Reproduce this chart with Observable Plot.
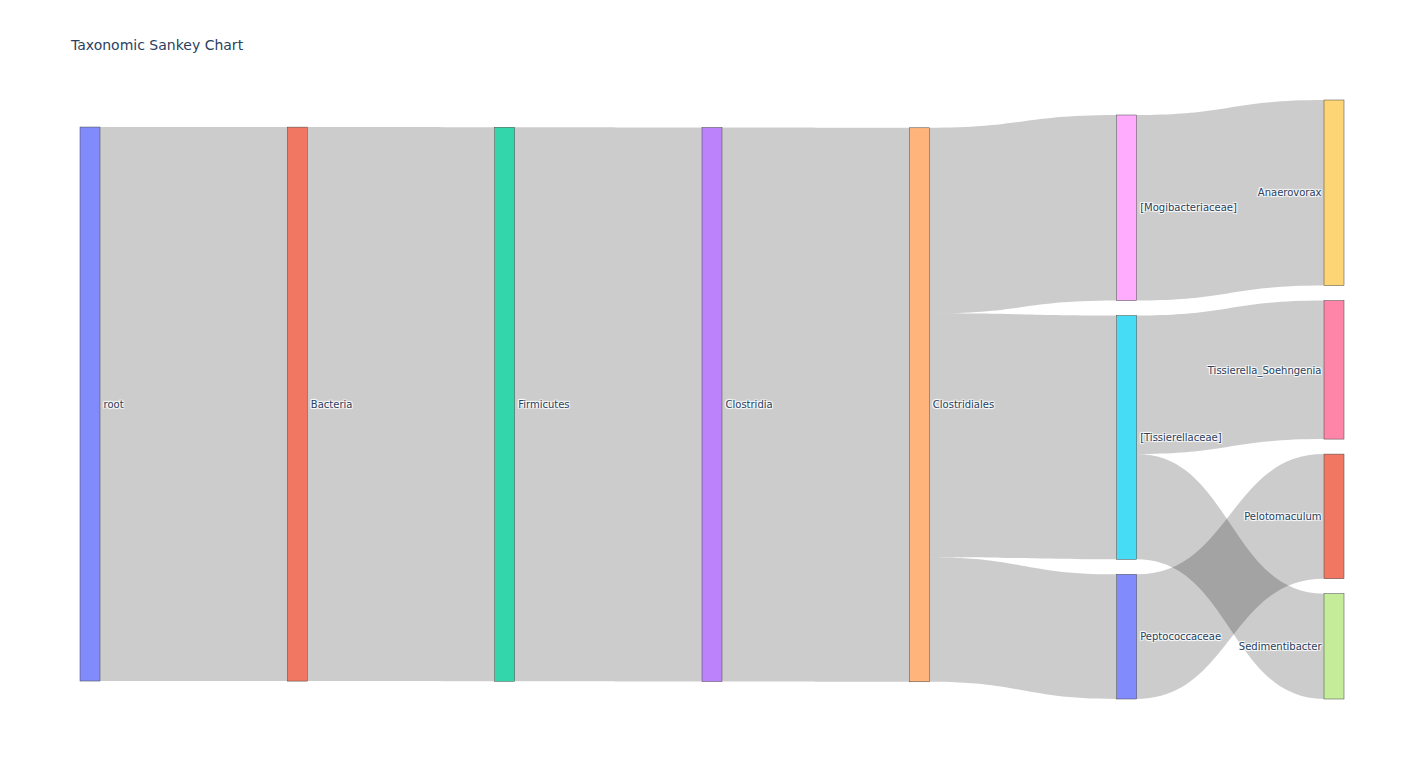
<!DOCTYPE html>
<html>
<head>
<meta charset="utf-8">
<script src="https://cdn.jsdelivr.net/npm/d3@7"></script>
<script src="https://cdn.jsdelivr.net/npm/@observablehq/plot@0.6"></script>
<style>
  html, body { margin: 0; padding: 0; background: #fff; overflow: hidden; }
  #wrap { position: relative; width: 1424px; height: 779px; }
  #title { position: absolute; left: 71px; top: 38px; font-family: "DejaVu Sans", sans-serif; font-size: 14px; line-height: 14px; color: #2a3f5f; white-space: nowrap; }
  #chart svg { display: block; }
  g[aria-label="text"] text { text-shadow: 1px 1px 1px #fff, 1px -1px 1px #fff, -1px 1px 1px #fff, -1px -1px 1px #fff; }
</style>
</head>
<body>
<div id="wrap">
  <div id="chart"></div>
  <div id="title">Taxonomic Sankey Chart</div>
</div>
<script>
// ---- Data ----
const nodeLabels = ["root", "Bacteria", "Firmicutes", "Clostridia", "Clostridiales",
  "[Tissierellaceae]", "[Mogibacteriaceae]", "Tissierella_Soehngenia", "Sedimentibacter",
  "Anaerovorax", "Peptococcaceae", "Pelotomaculum"];
const nodeColors = ["#636efa", "#EF553B", "#00cc96", "#ab63fa", "#FFA15A",
  "#19d3f3", "#FF97FF", "#FF6692", "#B6E880", "#FECB52", "#636efa", "#EF553B"];
const linkSources = ["root", "Bacteria", "Firmicutes", "Clostridia", "Clostridiales", "Clostridiales",
  "Clostridiales", "[Tissierellaceae]", "[Tissierellaceae]", "[Mogibacteriaceae]", "Peptococcaceae"];
const linkTargets = ["Bacteria", "Firmicutes", "Clostridia", "Clostridiales", "[Tissierellaceae]",
  "[Mogibacteriaceae]", "Peptococcaceae", "Tissierella_Soehngenia", "Sedimentibacter", "Anaerovorax", "Pelotomaculum"];
const linkValues = [400, 400, 400, 400, 176, 134, 90, 100, 76, 134, 90];

// ---- Sankey layout (classic d3-sankey relaxation, computed in plot units) ----
const W = 1264, H = 599, nodeW = 20, pad = 15, iterations = 400;
const nodes = nodeLabels.map((name, i) => ({name, index: i, color: nodeColors[i], sourceLinks: [], targetLinks: []}));
const byName = new Map(nodes.map(n => [n.name, n]));
const links = linkSources.map((s, i) => {
  const l = {source: byName.get(s), target: byName.get(linkTargets[i]), value: linkValues[i], index: i};
  l.source.sourceLinks.push(l); l.target.targetLinks.push(l);
  return l;
});
for (const n of nodes) n.value = Math.max(d3.sum(n.sourceLinks, l => l.value), d3.sum(n.targetLinks, l => l.value));
let current = new Set(nodes), depth = 0;
while (current.size) {
  const next = new Set();
  for (const n of current) { n.depth = depth; for (const l of n.sourceLinks) next.add(l.target); }
  depth++; current = next;
}
const nCols = depth;
const kx = (W - nodeW) / (nCols - 1);
for (const n of nodes) { n.layer = n.sourceLinks.length ? n.depth : nCols - 1; n.x0 = n.layer * kx; n.x1 = n.x0 + nodeW; }
const columns = d3.groups(nodes, n => n.layer).sort((a, b) => a[0] - b[0]).map(d => d[1]);
const center = n => (n.y0 + n.y1) / 2;
const ky = d3.min(columns, c => (H - (c.length - 1) * pad) / d3.sum(c, n => n.value));
for (const col of columns) col.forEach((n, i) => { n.y0 = i; n.y1 = i + n.value * ky; });
for (const l of links) l.width = l.value * ky;
function resolve() {
  for (const col of columns) {
    let y = 0, node, dy;
    col.sort((a, b) => a.y0 - b.y0);
    for (node of col) { dy = y - node.y0; if (dy > 0) { node.y0 += dy; node.y1 += dy; } y = node.y1 + pad; }
    node = col[col.length - 1];
    dy = y - pad - H;
    if (dy > 0) {
      node.y0 -= dy; node.y1 -= dy; y = node.y0;
      for (let i = col.length - 2; i >= 0; --i) {
        const m = col[i]; dy = m.y1 + pad - y;
        if (dy > 0) { m.y0 -= dy; m.y1 -= dy; }
        y = m.y0;
      }
    }
  }
}
function relaxRL(alpha) {
  for (const col of columns.slice().reverse()) for (const n of col) if (n.sourceLinks.length) {
    const dy = (d3.sum(n.sourceLinks, l => center(l.target) * l.value) / d3.sum(n.sourceLinks, l => l.value) - center(n)) * alpha;
    n.y0 += dy; n.y1 += dy;
  }
}
function relaxLR(alpha) {
  for (const col of columns) for (const n of col) if (n.targetLinks.length) {
    const dy = (d3.sum(n.targetLinks, l => center(l.source) * l.value) / d3.sum(n.targetLinks, l => l.value) - center(n)) * alpha;
    n.y0 += dy; n.y1 += dy;
  }
}
resolve();
for (let alpha = 1, k = iterations; k > 0; --k) { relaxRL(alpha *= 0.99); resolve(); relaxLR(alpha); resolve(); }
for (const n of nodes) {
  n.sourceLinks.sort((a, b) => (a.target.y0 - b.target.y0) || (a.index - b.index));
  n.targetLinks.sort((a, b) => (a.source.y0 - b.source.y0) || (a.index - b.index));
  let y0 = n.y0, y1 = n.y0;
  for (const l of n.sourceLinks) { l.y0 = y0 + l.width / 2; y0 += l.width; }
  for (const l of n.targetLinks) { l.y1 = y1 + l.width / 2; y1 += l.width; }
}
const ribbon = links.flatMap(l => [
  {link: l.index, x: l.source.x1, top: l.y0 - l.width / 2, bottom: l.y0 + l.width / 2},
  {link: l.index, x: l.target.x0, top: l.y1 - l.width / 2, bottom: l.y1 + l.width / 2}
]);
const lastCol = nCols - 1;

const chart = Plot.plot({
  width: 1424, height: 779,
  marginLeft: 80, marginRight: 80, marginTop: 100, marginBottom: 80,
  style: {fontFamily: "'DejaVu Sans', sans-serif", background: "#fff"},
  x: {domain: [0, W], axis: null},
  y: {domain: [0, H], reverse: true, axis: null},
  marks: [
    Plot.areaY(ribbon, {x: "x", y1: "top", y2: "bottom", z: "link", curve: "bump-x", fill: "#000", fillOpacity: 0.2}),
    Plot.rect(nodes, {x1: "x0", x2: "x1", y1: "y0", y2: "y1", fill: "color", fillOpacity: 0.8, stroke: "#444", strokeWidth: 0.5}),
    Plot.text(nodes.filter(n => n.layer !== lastCol), {x: "x1", y: center, text: "name", textAnchor: "start", dx: 3, fill: "#2a3f5f", fontSize: 10}),
    Plot.text(nodes.filter(n => n.layer === lastCol), {x: "x0", y: center, text: "name", textAnchor: "end", dx: -3, fill: "#2a3f5f", fontSize: 10})
  ]
});
document.getElementById("chart").appendChild(chart);
</script>
</body>
</html>
